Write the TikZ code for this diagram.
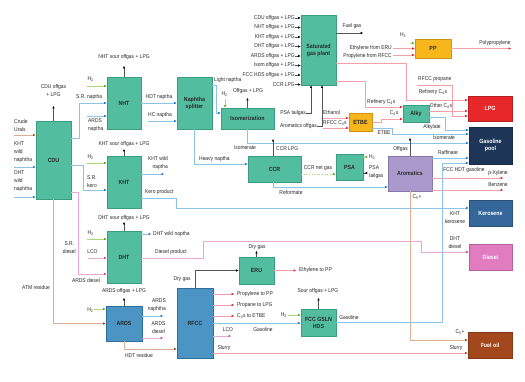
\documentclass[tikz,border=0pt]{standalone}
\usepackage{fontspec}
\setmainfont{Liberation Sans}[FakeStretch=0.88]
\usetikzlibrary{arrows.meta}
\definecolor{cTeal}{HTML}{52BE9F}
\definecolor{cTealD}{HTML}{3C9C80}
\definecolor{cBlueB}{HTML}{4B94C4}
\definecolor{cBlueBD}{HTML}{2F6F99}
\definecolor{cOrg}{HTML}{F7B71C}
\definecolor{cOrgD}{HTML}{D09410}
\definecolor{cAro}{HTML}{A99ACB}
\definecolor{cAroD}{HTML}{8877AA}
\definecolor{cLPG}{HTML}{E8272A}
\definecolor{cGas}{HTML}{1D3557}
\definecolor{cKer}{HTML}{35679A}
\definecolor{cDsl}{HTML}{E17CC1}
\definecolor{cFO}{HTML}{A3481D}
\definecolor{cTxt}{HTML}{2A2A2A}
\definecolor{lBl}{HTML}{8CC4E8}
\definecolor{aBl}{HTML}{1F73C8}
\definecolor{lGr}{HTML}{A8D878}
\definecolor{aGr}{HTML}{5AA820}
\definecolor{lRd}{HTML}{F4A0A8}
\definecolor{aRd}{HTML}{E02030}
\definecolor{lBr}{HTML}{D8B098}
\definecolor{aBr}{HTML}{A04818}
\definecolor{lMg}{HTML}{E8A8D8}
\definecolor{aMg}{HTML}{C040A0}
\definecolor{lBk}{HTML}{555555}
\begin{document}
\begin{tikzpicture}[x=1pt,y=-1pt,font=\fontsize{5.6}{8}\selectfont,
  unit/.style={draw=cTealD,fill=cTeal,line width=0.4pt,font=\fontsize{6}{7}\selectfont\bfseries,text=cTxt,align=center,inner sep=0pt},
  bunit/.style={unit,draw=cBlueBD,fill=cBlueB},
  ounit/.style={unit,draw=cOrgD,fill=cOrg},
  aunit/.style={unit,draw=cAroD,fill=cAro},
  prod/.style={unit,draw=#1!80!black,fill=#1,text=white},
  lbl/.style={inner sep=0pt,text=cTxt,align=center},
  ln/.style={line width=0.6pt},
  bl/.style={ln,draw=lBl,-{Latex[length=2.6pt,width=2.4pt,color=aBl]}},
  gr/.style={ln,draw=lGr,-{Latex[length=2.6pt,width=2.4pt,color=aGr]}},
  rd/.style={ln,draw=lRd,-{Latex[length=2.6pt,width=2.4pt,color=aRd]}},
  br/.style={ln,draw=lBr,-{Latex[length=2.6pt,width=2.4pt,color=aBr]}},
  mg/.style={ln,draw=lMg,-{Latex[length=2.6pt,width=2.4pt,color=aMg]}},
  bk/.style={ln,draw=lBk,-{Latex[length=2.6pt,width=2.4pt,color=black]}}
]
\useasboundingbox[fill=white] (0,0) rectangle (525,382);

% ---------- units ----------
\node[unit,minimum width=35pt,minimum height=78pt] (CDU) at (53.5,160) {CDU};
\node[unit,minimum width=34pt,minimum height=52pt] (NHT) at (124,103) {NHT};
\node[unit,minimum width=34pt,minimum height=52pt] (KHT) at (124,182) {KHT};
\node[unit,minimum width=34pt,minimum height=52pt] (DHT) at (124,257) {DHT};
\node[bunit,minimum width=36pt,minimum height=35pt] (ARDS) at (124,323.5) {ARDS};
\node[unit,minimum width=35pt,minimum height=52pt] (SPL) at (194.5,103) {Naphtha\\splitter};
\node[unit,minimum width=53pt,minimum height=21pt] (ISO) at (247.5,118.5) {Isomerization};
\node[unit,minimum width=35pt,minimum height=70pt] (SGP) at (318.5,50) {Saturated\\gas plant};
\node[unit,minimum width=53pt,minimum height=26pt] (CCR) at (274.5,169) {CCR};
\node[unit,minimum width=27pt,minimum height=26pt] (PSA) at (349.5,167) {PSA};
\node[ounit,minimum width=23pt,minimum height=18pt] (ETBE) at (360.5,122) {ETBE};
\node[unit,minimum width=26pt,minimum height=17pt] (ALKY) at (416,113.5) {Alky};
\node[ounit,minimum width=36pt,minimum height=19pt] (PP) at (433,48.5) {PP};
\node[aunit,minimum width=44pt,minimum height=35pt] (ARO) at (410,173.5) {Aromatics};
\node[bunit,minimum width=36pt,minimum height=70pt] (RFCC) at (195,323) {RFCC};
\node[unit,minimum width=35pt,minimum height=27pt] (ERU) at (256.5,270.5) {ERU};
\node[unit,minimum width=35pt,minimum height=27pt] (FCC) at (318.5,322.5) {FCC GSLN\\HDS};
\node[prod=cLPG,minimum width=44pt,minimum height=25pt] (LPG) at (490,108.5) {LPG};
\node[prod=cGas,minimum width=43pt,minimum height=37pt] (GAS) at (490.5,145.5) {Gasoline\\pool};
\node[prod=cKer,minimum width=43pt,minimum height=26pt] (KER) at (490.5,213) {Kerosene};
\node[prod=cDsl,minimum width=43pt,minimum height=26pt] (DSL) at (490.5,257) {Diesel};
\node[prod=cFO,minimum width=44pt,minimum height=26pt] (FO) at (490,345) {Fuel oil};

% ---------- free ends ----------
\coordinate (fCr) at (14,135);
\coordinate (fKw) at (14,167);
\coordinate (fDw) at (14,197);
\coordinate (fNh) at (87,86);
\coordinate (fAn) at (87,116);
\coordinate (fHc) at (148,121);
\coordinate (fIh) at (225,99);
\coordinate (fKh) at (87,163);
\coordinate (fDh) at (87,239);
\coordinate (fLc) at (88,258);
\coordinate (fAh) at (94,309);
\coordinate (fFh) at (288,315);
\coordinate (fPh) at (410,43);
\coordinate (fEt) at (393,48.5);
\coordinate (fPr) at (393,55);
\coordinate (fEo) at (323,118);
\coordinate (fRc) at (323,128);
\coordinate (fRp) at (417,85);

% ---------- CDU ----------
\draw[br] (fCr) -- (CDU.west |- fCr);
\node[lbl,anchor=west,align=left] at (14,126) {Crude\\Urals};
\draw[bl] (fKw) -- (CDU.west |- fKw);
\node[lbl,anchor=west,align=left] at (14,152) {KHT\\wild\\naphtha};
\draw[bl] (fDw) -- (CDU.west |- fDw);
\node[lbl,anchor=west,align=left] at (14,181) {DHT\\wild\\naphtha};
\draw[bk] (CDU.north) -- ++(0,-15);
\node[lbl] at (53.5,91) {CDU offgas\\+ LPG};
\draw[bl] (CDU.east |- 0,138) -| (79,103) -- (NHT.west |- 0,103);
\node[lbl,anchor=west] at (76,97) {S.R. naptha};
\draw[bl] (CDU.east |- 0,165) -| (83,190) -- (KHT.west |- 0,190);
\node[lbl,anchor=west,align=left] at (87,181.5) {S.R.\\kero};
\draw[mg] (CDU.east |- 0,192) -| (78,274) -- (DHT.west |- 0,274);
\node[lbl,anchor=east] at (76,247.5) {S.R.\\diesel};
\draw[br] (CDU.south) |- (ARDS.west);
\node[lbl] at (36,287) {ATM residue};

% ---------- NHT ----------
\draw[gr] (fNh) -- (NHT.west |- fNh);
\node[lbl] at (90.5,79) {H\textsubscript{2}};
\draw[bl] (fAn) -- (NHT.west |- fAn);
\node[lbl,anchor=west,align=left] at (88,125) {ARDS\\naptha};
\draw[bk] (NHT.north) -- ++(0,-11);
\node[lbl] at (124,57) {NHT sour offgas + LPG};
\draw[bl] (NHT.east |- 0,103) -- (SPL.west |- 0,103);
\node[lbl] at (159,97) {HDT naptha};
\draw[bl] (fHc) -- (SPL.west |- fHc);
\node[lbl] at (160,115) {HC naptha};

% ---------- KHT ----------
\draw[gr] (fKh) -- (KHT.west |- fKh);
\node[lbl] at (90.5,157) {H\textsubscript{2}};
\draw[bk] (KHT.north) -- ++(0,-7);
\node[lbl] at (124,144) {KHT sour offgas + LPG};
\draw[bl] (KHT.east |- 0,174) -- ++(23,0);
\node[lbl,anchor=east,align=right] at (168,163.5) {KHT wild\\naptha};
\draw[bl] (KHT.east |- 0,198) -| (176,208) -- (KER.west |- 0,208);
\node[lbl,anchor=west] at (145,192) {Kero product};
\node[lbl] at (455,218) {KHT\\kerosene};

% ---------- DHT ----------
\draw[gr] (fDh) -- (DHT.west |- fDh);
\node[lbl] at (90.5,233) {H\textsubscript{2}};
\draw[mg] (fLc) -- (DHT.west |- fLc);
\node[lbl] at (92.5,252) {LCO};
\node[lbl] at (86,280.5) {ARDS diesel};
\draw[bk] (DHT.north) -- ++(0,-9);
\node[lbl] at (124,218) {DHT sour offgas + LPG};
\draw[bl] (DHT.east |- 0,234) -- ++(10,0);
\node[lbl,anchor=west] at (153,234) {DHT wild naptha};
\draw[mg] (DHT.east |- 0,258) -| (203,241) -| (421,252) -- (DSL.west |- 0,252);
\node[lbl,anchor=west] at (155,252) {Diesel product};
\node[lbl] at (455,242.5) {DHT\\diesel};

% ---------- ARDS ----------
\draw[gr] (fAh) -- (ARDS.west |- fAh);
\node[lbl,anchor=east] at (93.5,310) {H\textsubscript{2}};
\draw[bk] (ARDS.north) -- ++(0,-8);
\node[lbl] at (124,291) {ARDS offgas + LPG};
\draw[bl] (ARDS.east |- 0,316) -- ++(21,0);
\node[lbl,anchor=east,align=right] at (166,305.5) {ARDS\\naphtha};
\draw[mg] (ARDS.east |- 0,338) -- ++(21,0);
\node[lbl] at (158.5,328) {ARDS\\diesel};
\draw[br] (ARDS.south) |- (RFCC.west |- 0,349);
\node[lbl] at (139,355) {HDT residue};

% ---------- Naphtha splitter / Isomerization ----------
\draw[bl] (SPL.east |- 0,85) -| (216,113) -- (ISO.west |- 0,113);
\node[lbl,anchor=west] at (214,80) {Light naptha};
\draw[bl] (SPL.south) |- (CCR.west |- 0,164);
\node[lbl,anchor=west] at (199,159) {Heavy naptha};
\draw[gr] (fIh) -- (ISO.north -| fIh);
\node[lbl] at (224.5,94) {H\textsubscript{2}};
\draw[bk] (ISO.north) -- ++(0,-10);
\node[lbl] at (248,91) {Offgas + LPG};
\draw[bl] (ISO.south) |- (GAS.west |- 0,143);
\node[lbl] at (245,148) {Isomerate};
\node[lbl] at (444,137.5) {Isomerate};

% ---------- Saturated gas plant ----------
\foreach \t [count=\i] in {CDU offgas + LPG,NHT offgas + LPG,KHT offgas + LPG,DHT offgas + LPG,ARDS offgas + LPG,Isom offgas + LPG,FCC HDS offgas + LPG,CCR LPG}{
  \node[lbl,anchor=east] (sg\i) at (295,{8.5+9.5*\i}) {\t};
  \draw[bk] (sg\i.east) -- (SGP.west |- sg\i.east);
}
\node[lbl,anchor=east] (PTG) at (306,113) {PSA tailgas};
\draw[bk] (PTG.east) -| (SGP.south -| 311,0);
\node[lbl,anchor=east] (AOG) at (317,126) {Aromatics offgas};
\draw[bk] (AOG.east) -| (SGP.south -| 322,0);
\draw[bk] (SGP.east |- 0,33) -- ++(27,0);
\node[lbl] at (352,26) {Fuel gas};
\draw[rd] (SGP.east |- 0,63) -| (406,100) -- (LPG.west |- 0,100);
\node[lbl] at (433,92) {Refinery C\textsubscript{4}s};
\draw[rd] (SGP.east |- 0,81) -| (365,107) -- (ALKY.west |- 0,107);
\node[lbl,anchor=west] at (367,102) {Refinery C\textsubscript{4}s};

% ---------- PP ----------
\draw[gr] (fPh) -- (PP.west |- fPh);
\node[lbl] at (403,35) {H\textsubscript{2}};
\draw[rd] (fEt) -- (PP.west |- fEt);
\node[lbl,anchor=east] at (392,48.5) {Ethylene from ERU};
\draw[rd] (fPr) -- (PP.west |- fPr);
\node[lbl,anchor=east] at (392,56) {Propylene from RFCC};
\draw[rd] (PP.east) -- ++(60,0);
\node[lbl] at (495,43) {Polypropylene};

% ---------- LPG ----------
\draw[rd] (fRp) -| (452,116) -- (LPG.west |- 0,116);
\node[lbl,anchor=west] at (418,79) {RFCC propane};
\draw[rd] (ALKY.east |- 0,111) -- (LPG.west |- 0,111);
\node[lbl] at (441,106) {Other C\textsubscript{4}s};

% ---------- ETBE / Alky ----------
\draw[rd] (fEo) -- (ETBE.west |- fEo);
\node[lbl,anchor=west] at (323,113) {Ethanol};
\draw[rd] (fRc) -- (ETBE.west |- fRc);
\node[lbl,anchor=west] at (323,123) {RFCC C\textsubscript{4}s};
\draw[rd] (ETBE.east |- 0,122) -| (381,119) -- (ALKY.west |- 0,119);
\node[lbl] at (394,113) {C\textsubscript{4}s};
\draw[bl] (ETBE.east |- 0,128) -| (392,134) -- (GAS.west |- 0,134);
\node[lbl] at (384,132.5) {ETBE};
\draw[bl] (ALKY.east |- 0,117) -| (445,130) -- (GAS.west |- 0,130);
\node[lbl] at (432,127) {Alkylate};

% ---------- CCR / PSA ----------
\draw[bk] (CCR.north -| 273,0) -- ++(0,-17);
\node[lbl,anchor=west] at (276,149) {CCR LPG};
\draw[gr,dotted] (CCR.east |- 0,174) -- (PSA.west |- 0,174);
\node[lbl] at (318,168) {CCR net gas};
\draw[bl] (CCR.south -| 273,0) |- (ARO.west |- 0,187);
\node[lbl] at (291,193) {Reformate};
\draw[gr] (PSA.east |- 0,157) -- ++(5,0);
\node[lbl,anchor=west] at (369,157) {H\textsubscript{2}};
\draw[bk] (PSA.east |- 0,173) -- ++(5,0);
\node[lbl,anchor=west,align=left] at (369,172.5) {PSA\\tailgas};

% ---------- Aromatics ----------
\draw[bk] (ARO.north) -- ++(0,-18);
\node[lbl,anchor=east] at (408,149) {Offgas};
\draw[bl] (ARO.east |- 0,158) -- (GAS.west |- 0,158);
\node[lbl] at (448,152.5) {Raffinate};
\draw[rd] (ARO.east |- 0,178) -- ++(71,0);
\node[lbl] at (498,173) {p-Xylene};
\draw[rd] (ARO.east |- 0,190) -- ++(71,0);
\node[lbl] at (498,184.5) {Benzene};
\draw[br] (ARO.south) |- (FO.west |- 0,340);
\node[lbl] at (417,197.5) {C\textsubscript{5}+};
\node[lbl] at (460,332) {C\textsubscript{5}+};

% ---------- RFCC ----------
\draw[bk] (RFCC.north) |- (ERU.west);
\node[lbl] at (182,279) {Dry gas};
\draw[rd] (RFCC.east |- 0,294) -- ++(21,0);
\node[lbl,anchor=west] at (237,294) {Propylene to PP};
\draw[rd] (RFCC.east |- 0,305) -- ++(21,0);
\node[lbl,anchor=west] at (237,305) {Propane to LPG};
\draw[rd] (RFCC.east |- 0,316) -- ++(21,0);
\node[lbl,anchor=west] at (237,316) {C\textsubscript{4}s to ETBE};
\draw[bl] (RFCC.east |- 0,323) -- (FCC.west |- 0,323);
\node[lbl] at (263,329.5) {Gasoline};
\draw[mg] (RFCC.east |- 0,336) -- ++(18,0);
\node[lbl] at (228,329.5) {LCO};
\draw[ln,draw=lRd,-{Latex[length=2.6pt,width=2.4pt,color=aBr]}] (RFCC.east |- 0,353) -- (FO.west |- 0,353);
\node[lbl] at (224,348.5) {Slurry};
\node[lbl] at (456,348.5) {Slurry};

% ---------- ERU ----------
\draw[bk] (ERU.north) -- ++(0,-6);
\node[lbl] at (257,247) {Dry gas};
\draw[rd] (ERU.east) -- ++(22,0);
\node[lbl,anchor=west] at (299,270.5) {Ethylene to PP};

% ---------- FCC GSLN HDS ----------
\draw[gr] (fFh) -- (FCC.west |- fFh);
\node[lbl,anchor=east] at (287,315) {H\textsubscript{2}};
\draw[bk] (FCC.north) -- ++(0,-11);
\node[lbl] at (318,291) {Sour offgas + LPG};
\draw[bl] (FCC.east |- 0,322) -| (442,163) -- (GAS.west |- 0,163);
\node[lbl] at (349,317) {Gasoline};
\node[lbl] at (464,170) {FCC HDT gasoline};
\end{tikzpicture}
\end{document}
